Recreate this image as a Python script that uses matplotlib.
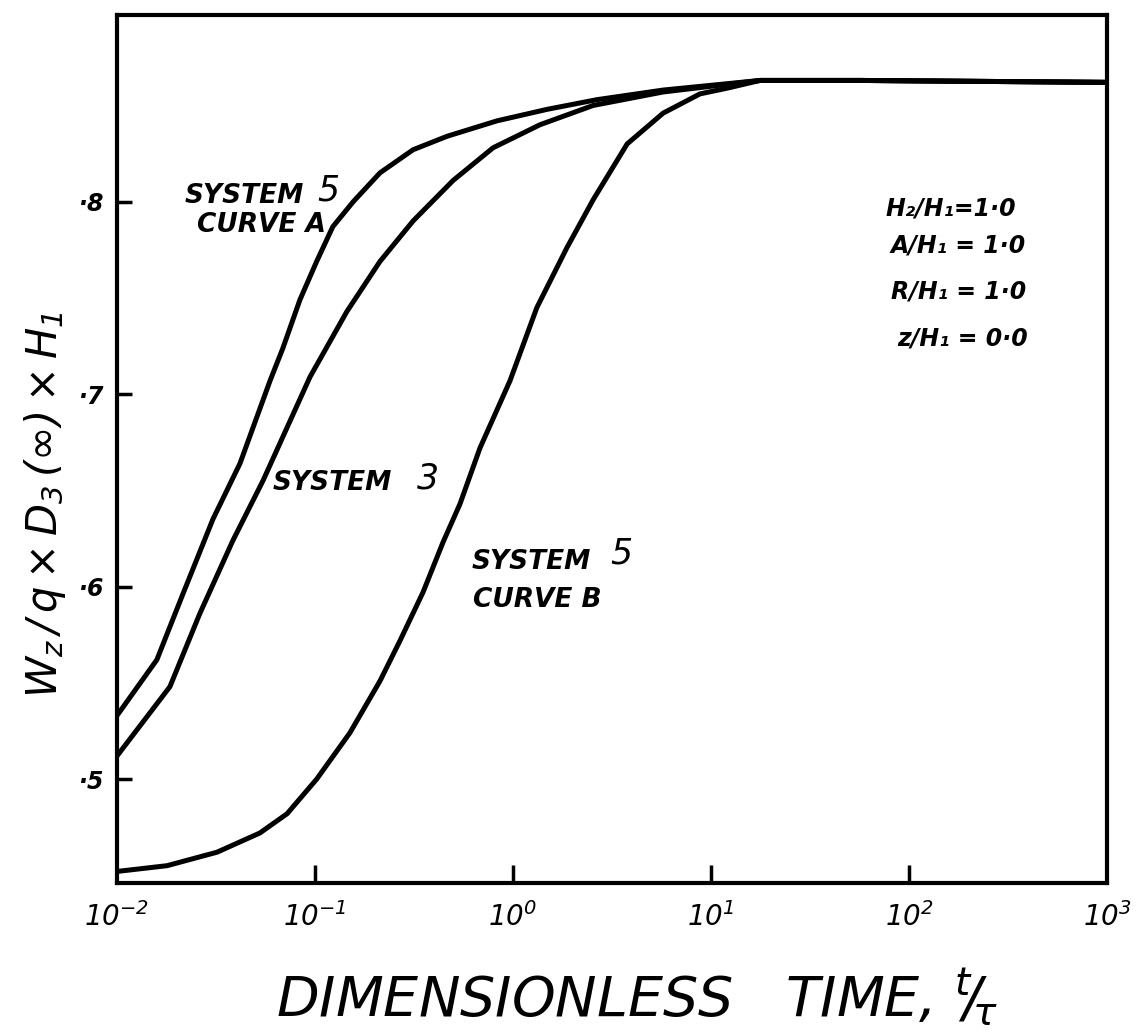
import numpy as np
import matplotlib
matplotlib.use("Agg")
import matplotlib.pyplot as plt

plt.rcParams['font.family'] = ['DejaVu Sans']
plt.rcParams['mathtext.fontset'] = 'custom'
plt.rcParams['mathtext.rm'] = 'DejaVu Sans:italic'
plt.rcParams['mathtext.it'] = 'DejaVu Sans:italic'
plt.rcParams['mathtext.bf'] = 'DejaVu Sans:italic:bold'

# dimensionless time t/tau and w_z / q x D3(inf) x H1 for each curve
t_a = [0.0100, 0.0159, 0.0213, 0.0305, 0.0418, 0.0593, 0.0689, 0.0839, 0.102, 0.123,
       0.156, 0.213, 0.313, 0.465, 0.830, 1.49, 2.65, 5.73, 17.7, 56.6, 1000]
w_a = [0.533, 0.562, 0.595, 0.635, 0.664, 0.707, 0.724, 0.749, 0.769, 0.787,
       0.800, 0.815, 0.827, 0.834, 0.842, 0.848, 0.853, 0.858, 0.863, 0.863, 0.862]

t_3 = [0.0100, 0.0185, 0.0262, 0.0385, 0.0546, 0.0944, 0.145, 0.213, 0.313, 0.498,
       0.793, 1.37, 2.54, 5.73, 17.7, 56.6, 1000]
w_3 = [0.512, 0.548, 0.586, 0.624, 0.655, 0.709, 0.743, 0.769, 0.790, 0.811,
       0.828, 0.840, 0.850, 0.857, 0.863, 0.863, 0.862]

t_b = [0.0100, 0.0179, 0.0320, 0.0527, 0.0723, 0.102, 0.150, 0.213, 0.269, 0.351,
       0.443, 0.540, 0.681, 0.966, 1.32, 1.87, 2.54, 3.77, 5.73, 8.79, 12.1, 17.7,
       56.6, 1000]
w_b = [0.452, 0.455, 0.462, 0.472, 0.482, 0.500, 0.524, 0.551, 0.572, 0.597,
       0.623, 0.643, 0.672, 0.707, 0.745, 0.776, 0.801, 0.830, 0.846, 0.856, 0.859, 0.863,
       0.863, 0.862]

x_ticks = [1e-2, 1e-1, 1e0, 1e1, 1e2, 1e3]
x_labels = [r'$10^{-2}$', r'$10^{-1}$', r'$10^{0}$', r'$10^{1}$', r'$10^{2}$', r'$10^{3}$']
y_ticks = [0.5, 0.6, 0.7, 0.8]
y_labels = ['·5', '·6', '·7', '·8']
params = ['H₂/H₁=1·0', 'A/H₁ = 1·0', 'R/H₁ = 1·0', 'z/H₁ = 0·0']

fig = plt.figure(figsize=(11.43, 10.36), dpi=100)
ax = fig.add_axes([117/1143, 1-883/1036, 990/1143, 868/1036])

for t, w in [(t_a, w_a), (t_3, w_3), (t_b, w_b)]:
    ax.plot(t, w, color='black', lw=3.6, solid_joinstyle='round', solid_capstyle='round')

ax.set_xscale('log')
ax.set_xlim(1e-2, 1e3)
ax.set_ylim(0.446, 0.897)
for s in ax.spines.values():
    s.set_linewidth(3.0)

ax.set_xticks(x_ticks)
ax.set_xticklabels(x_labels)
ax.xaxis.set_minor_locator(matplotlib.ticker.NullLocator())
ax.tick_params(axis='x', direction='in', length=13, width=2.5, pad=14, labelsize=20)
ax.set_yticks(y_ticks)
ax.set_yticklabels(y_labels, fontweight='bold', style='italic')
ax.tick_params(axis='y', direction='in', length=11, width=2.5, pad=10, labelsize=17)
# hide the end ticks sitting on the frame
for tk in [ax.xaxis.get_major_ticks()[0], ax.xaxis.get_major_ticks()[-1]]:
    tk.tick1line.set_visible(False)

lab = dict(fontweight='bold', style='italic', fontsize=19, color='black', va='center')
big = dict(fontsize=25, style='italic', color='black', va='center')
ax.text(0.022, 0.803, 'SYSTEM', **lab)
ax.text(0.103, 0.806, '5', **big)
ax.text(0.0253, 0.788, 'CURVE A', **lab)
ax.text(0.0613, 0.654, 'SYSTEM', **lab)
ax.text(0.327, 0.656, '3', **big)
ax.text(0.621, 0.613, 'SYSTEM', **lab)
ax.text(3.09, 0.617, '5', **big)
ax.text(0.626, 0.593, 'CURVE B', **lab)

for i, (p, yv) in enumerate(zip(params, [0.7964, 0.7772, 0.7533, 0.7290])):
    ax.text(0.842 + 0.008 * min(i, 1) + 0.004 * (i == 3), (yv - 0.446) / (0.897 - 0.446), p,
            transform=ax.transAxes, ha='center', va='center',
            fontweight='bold', style='italic', fontsize=17)

fig.text(45/1143, 1-505/1036, r'$W_z\,/\,q \times D_3\,(\infty)\times H_1$',
         rotation=90, ha='center', va='center', fontsize=30)
fig.text(637/1143, 1-997/1036, r'DIMENSIONLESS   TIME, $^{t}\!/\!_{\tau}$',
         ha='center', va='center', fontsize=40, style='italic')

fig.savefig('out.png', dpi=100)
